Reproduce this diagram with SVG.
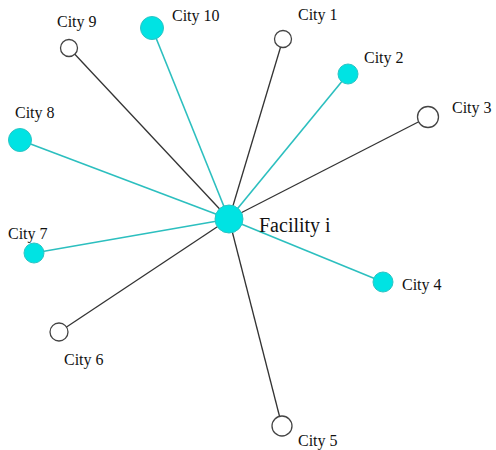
<svg xmlns="http://www.w3.org/2000/svg" width="496" height="450" viewBox="0 0 496 450">
<style>
.bg{fill:#ffffff}
.lk{stroke:#333333;stroke-width:1.3;fill:none}
.lc{stroke:#2cbfbf;stroke-width:1.6;fill:none}
.open{fill:#ffffff;stroke:#444444;stroke-width:1.3}
.sel{fill:#00e3e3;stroke:#2cc4c4;stroke-width:1}
.lbl{font-family:"Liberation Serif","Times New Roman",serif;font-size:16px;fill:#111111}
.flbl{font-family:"Liberation Serif","Times New Roman",serif;font-size:20px;fill:#111111}
</style>
<rect class="bg" x="0" y="0" width="496" height="450"/>
<g id="connectors">
<line class="lk" x1="229" y1="219" x2="69" y2="48"/>
<line class="lc" x1="229" y1="219" x2="152" y2="28"/>
<line class="lk" x1="229" y1="219" x2="283" y2="39"/>
<line class="lc" x1="229" y1="219" x2="348" y2="74"/>
<line class="lk" x1="229" y1="219" x2="428" y2="117"/>
<line class="lc" x1="229" y1="219" x2="20" y2="140"/>
<line class="lc" x1="229" y1="219" x2="34" y2="253"/>
<line class="lc" x1="229" y1="219" x2="383" y2="282"/>
<line class="lk" x1="229" y1="219" x2="59" y2="332"/>
<line class="lk" x1="229" y1="219" x2="282" y2="426"/>
</g>
<g id="facility"><circle class="sel" cx="229" cy="219" r="14"/><text class="flbl" x="259" y="232">Facility i</text></g>
<g id="city1"><circle class="open" cx="283" cy="39" r="8.5"/><text class="lbl" x="298" y="20">City 1</text></g>
<g id="city2"><circle class="sel" cx="348" cy="74" r="10"/><text class="lbl" x="364" y="63">City 2</text></g>
<g id="city3"><circle class="open" cx="428" cy="117" r="10.5"/><text class="lbl" x="452" y="113">City 3</text></g>
<g id="city4"><circle class="sel" cx="383" cy="282" r="10"/><text class="lbl" x="402" y="290">City 4</text></g>
<g id="city5"><circle class="open" cx="282" cy="426" r="10"/><text class="lbl" x="298" y="446">City 5</text></g>
<g id="city6"><circle class="open" cx="59" cy="332" r="9"/><text class="lbl" x="64" y="365">City 6</text></g>
<g id="city7"><circle class="sel" cx="34" cy="253" r="10"/><text class="lbl" x="8" y="239">City 7</text></g>
<g id="city8"><circle class="sel" cx="20" cy="140" r="11.5"/><text class="lbl" x="15" y="118">City 8</text></g>
<g id="city9"><circle class="open" cx="69" cy="48" r="8.5"/><text class="lbl" x="57" y="27">City 9</text></g>
<g id="city10"><circle class="sel" cx="152" cy="28" r="11.5"/><text class="lbl" x="172" y="21">City 10</text></g>
</svg>
